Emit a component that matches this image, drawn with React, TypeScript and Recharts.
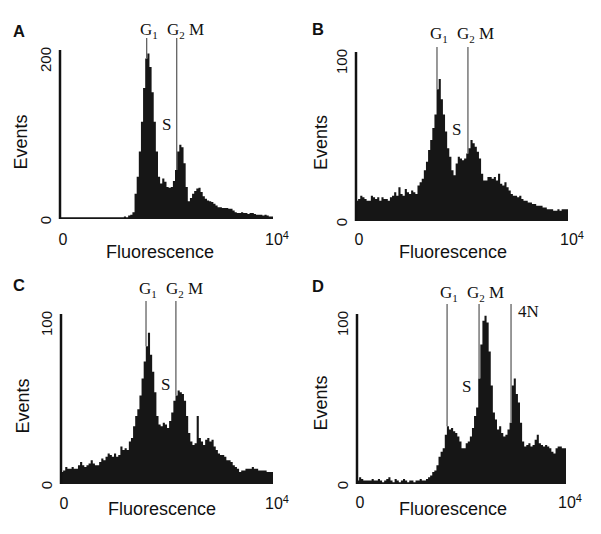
import React from 'react'
import { AreaChart, Area, XAxis, YAxis, ReferenceLine, Customized } from 'recharts'

// events per channel, 100 channels per histogram
const A_EVENTS = [
  2, 2, 2, 2, 2, 2, 2, 2, 2, 2,
  2, 2, 2, 2, 2, 2, 2, 2, 2, 2,
  2, 2, 2, 2, 2, 2, 2, 2, 2, 2,
  3, 2, 4, 5, 8, 30, 50, 80, 115, 155,
  190, 196, 180, 150, 115, 80, 50, 42, 48, 44,
  38, 37, 38, 45, 58, 80, 88, 85, 66, 38,
  21, 25, 30, 33, 36, 37, 32, 27, 24, 22,
  21, 20, 18, 16, 14, 14, 13, 13, 13, 12,
  12, 10, 8, 7, 7, 8, 7, 7, 6, 7,
  7, 6, 5, 5, 5, 4, 5, 4, 3, 3,
]
const B_EVENTS = [
  12, 13, 15, 14, 13, 12, 12, 15, 14, 13,
  14, 12, 14, 13, 13, 12, 14, 15, 17, 15,
  20, 16, 15, 19, 17, 16, 18, 17, 16, 21,
  23, 25, 30, 35, 42, 48, 55, 63, 78, 84,
  72, 63, 53, 43, 38, 30, 27, 34, 38, 37,
  36, 37, 40, 43, 48, 46, 44, 41, 37, 28,
  24, 24, 26, 26, 25, 26, 24, 28, 22, 21,
  23, 20, 18, 16, 15, 15, 14, 15, 13, 12,
  12, 11, 11, 10, 10, 9, 9, 9, 8, 8,
  7, 7, 7, 6, 6, 7, 6, 7, 7, 7,
]
const C_EVENTS = [
  7, 8, 10, 9, 9, 10, 9, 9, 11, 13,
  11, 10, 11, 12, 14, 12, 11, 11, 13, 15,
  14, 16, 18, 17, 16, 18, 16, 17, 22, 20,
  21, 20, 25, 27, 34, 40, 44, 52, 62, 72,
  81, 89, 76, 66, 54, 40, 35, 34, 36, 35,
  33, 37, 42, 49, 52, 55, 54, 53, 49, 40,
  30, 25, 23, 24, 40, 27, 25, 23, 26, 27,
  25, 26, 22, 20, 18, 17, 17, 16, 14, 14,
  13, 11, 10, 9, 7, 8, 8, 9, 9, 9,
  10, 9, 9, 8, 8, 8, 8, 7, 7, 7,
]
const D_EVENTS = [
  2, 4, 3, 2, 2, 2, 2, 3, 2, 2,
  3, 2, 1, 2, 3, 4, 2, 1, 3, 2,
  1, 2, 3, 2, 1, 2, 2, 1, 2, 2,
  3, 2, 2, 3, 4, 5, 7, 8, 11, 16,
  19, 21, 29, 34, 32, 33, 31, 30, 28, 25,
  21, 21, 24, 25, 28, 33, 40, 45, 62, 82,
  96, 99, 95, 78, 58, 42, 38, 32, 34, 30,
  28, 29, 32, 36, 58, 62, 53, 48, 36, 25,
  22, 23, 24, 22, 23, 26, 29, 24, 23, 22,
  23, 22, 21, 19, 18, 21, 22, 22, 21, 21,
]

// channel of each phase marker
const A_MARKS = [40.7, 54.8]
const B_MARKS = [38.2, 52.8]
const C_MARKS = [40.1, 54.2]
const D_MARKS = [43.1, 58.4, 73.7]
const MARK_LABELS = ['G1', 'G2M', '4N']

const X_TICKS = [0, 100]
const Y_MAX = [200, 100, 100, 100]
const LETTERS = ['A', 'B', 'C', 'D']

const SANS = '"Liberation Sans", Arial, Helvetica, sans-serif'
const SERIF = '"Liberation Serif", "Times New Roman", Times, serif'
const W = 300
const H = 267

// layout in page pixels
const PANELS = [
  { ox: 0, oy: 0, l: 60, t: 50, r: 273, b: 219, letter: [13, 37], labelY: 35, lineTop: 38, labelX: [140, 167], s: [162, 130], ev: [27, 142], fl: [160, 258], xt: 245 },
  { ox: 300, oy: 0, l: 356, t: 52, r: 568, b: 221, letter: [312, 35], labelY: 39, lineTop: 47, labelX: [430, 457], s: [452, 135], ev: [326.5, 142.5], fl: [453, 258], xt: 245 },
  { ox: 0, oy: 267, l: 61, t: 314, r: 273, b: 484, letter: [13, 291], labelY: 294, lineTop: 301, labelX: [139, 166], s: [161, 390], ev: [29, 406], fl: [162, 515], xt: 509 },
  { ox: 300, oy: 267, l: 357, t: 314, r: 566, b: 484, letter: [312, 292], labelY: 298, lineTop: 304, labelX: [440, 467, 518], s: [462, 392], ev: [326.5, 403], fl: [453, 515], xt: 508 },
]

const SERIES = [A_EVENTS, B_EVENTS, C_EVENTS, D_EVENTS]
const MARKS = [A_MARKS, B_MARKS, C_MARKS, D_MARKS]

function MarkLabel({ name, x, y }: { name: string; x: number; y: number }) {
  const common = { x, y, fontFamily: SERIF, fontSize: 17, fill: '#111' }
  if (name === 'G1') return <text {...common}>G<tspan fontSize={11} dy={4}>1</tspan></text>
  if (name === 'G2M') return <text {...common}>G<tspan fontSize={11} dy={4}>2</tspan><tspan dy={-4}> M</tspan></text>
  return <text {...common}>{name}</text>
}

function Annotations({ p, idx }: { p: any; idx: number }) {
  const dx = -p.ox
  const dy = -p.oy
  return (
    <g>
      <text x={p.letter[0] + dx} y={p.letter[1] + dy} fontFamily={SANS} fontWeight="bold" fontSize={16.5} fill="#111">{LETTERS[idx]}</text>
      {MARKS[idx].map((_, k) => (
        <MarkLabel key={k} name={MARK_LABELS[k]} x={p.labelX[k] + dx} y={(k === 2 ? 317 : p.labelY) + dy} />
      ))}
      <text x={p.s[0] + dx} y={p.s[1] + dy} fontFamily={SERIF} fontSize={17} fill="#111">S</text>
      <text x={p.ev[0] + dx} y={p.ev[1] + dy} transform={`rotate(-90 ${p.ev[0] + dx} ${p.ev[1] + dy})`} textAnchor="middle" fontFamily={SANS} fontSize={18} fill="#111">Events</text>
      <text x={p.fl[0] + dx} y={p.fl[1] + dy} textAnchor="middle" fontFamily={SANS} fontSize={18} fill="#111">Fluorescence</text>
    </g>
  )
}

function Histogram({ idx }: { idx: number }) {
  const p = PANELS[idx]
  const values = SERIES[idx]
  const yMax = Y_MAX[idx]
  const data = values.map((n, ch) => ({ ch, n }))
  data.push({ ch: values.length, n: values[values.length - 1] })
  const lineTopValue = ((p.b - p.lineTop) / (p.b - p.t)) * yMax
  const axisX = p.l - p.ox

  const yTick = (props: any) => {
    const v = props.payload.value
    const tx = axisX - 9.5
    const ty = v === 0 ? props.y + 1 : props.y - 3
    return (
      <text x={tx} y={ty} transform={`rotate(-90 ${tx} ${ty})`} textAnchor={v === 0 ? 'middle' : 'end'} fontFamily={SANS} fontSize={15} fill="#111">{v}</text>
    )
  }
  const xTick = (props: any) => {
    const v = props.payload.value
    const ty = p.xt - p.oy
    if (v === 0) return <text x={props.x + 3} y={ty} textAnchor="middle" fontFamily={SANS} fontSize={16} fill="#111">0</text>
    return <text x={props.x - 8} y={ty} fontFamily={SANS} fontSize={16} fill="#111">10<tspan fontSize={11} dy={-6}>4</tspan></text>
  }

  return (
    <div style={{ position: 'absolute', left: p.ox, top: p.oy }}>
      <AreaChart width={W} height={H} data={data} margin={{ top: p.t - p.oy, right: p.ox + W - p.r, bottom: 0, left: 0 }}>
        <XAxis type="number" dataKey="ch" domain={[0, values.length]} ticks={X_TICKS} interval={0} height={p.oy + H - p.b} axisLine={false} tickLine={false} tick={xTick} />
        <YAxis type="number" domain={[0, yMax]} ticks={[0, yMax]} interval={0} allowDataOverflow width={axisX} axisLine={{ stroke: '#111', strokeWidth: 2.5 }} tickLine={false} tick={yTick} />
        <Area type="stepAfter" dataKey="n" fill="#161616" fillOpacity={1} stroke="none" isAnimationActive={false} dot={false} activeDot={false} />
        {MARKS[idx].map((m, k) => (
          <ReferenceLine key={k} segment={[{ x: m, y: lineTopValue }, { x: m, y: values[Math.floor(m)] }]} stroke="#555" strokeWidth={1.2} ifOverflow="visible" />
        ))}
        <Customized component={<Annotations p={p} idx={idx} />} />
      </AreaChart>
    </div>
  )
}

export default function App() {
  return (
    <div style={{ position: 'absolute', left: 0, top: 0, width: 601, height: 534, background: '#fff' }}>
      {PANELS.map((_, i) => <Histogram key={i} idx={i} />)}
    </div>
  )
}
